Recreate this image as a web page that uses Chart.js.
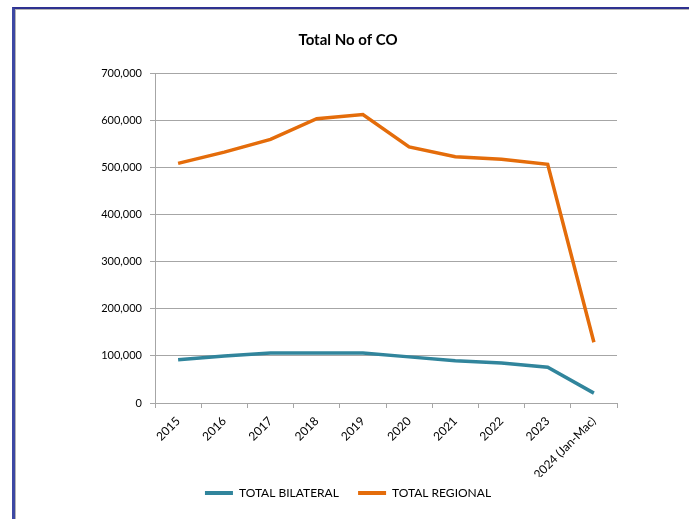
<!DOCTYPE html>
<html>
<head>
<meta charset="utf-8">
<script src="https://cdn.jsdelivr.net/npm/chart.js@4"></script>
<style>
  html, body { margin: 0; padding: 0; background: #ffffff; }
  #frame {
    position: absolute; left: 12px; top: 7px; width: 677px; height: 512px;
    border-top: 2px solid #2e3190; border-left: 3px solid #3d48a3;
    box-shadow: inset 1px 1px 0 #b4b4b4;
  }
  #chart { position: absolute; left: 0; top: 0; }
</style>
</head>
<body>
<div id="frame"></div>
<canvas id="chart" width="689" height="519"></canvas>
<script>
// Categories and series
const years = ['2015', '2016', '2017', '2018', '2019', '2020', '2021', '2022', '2023', '2024 (Jan-Mac)'];
const totalBilateral = [92000, 100000, 106000, 106000, 106000, 98000, 90000, 85000, 76000, 21000];
const totalRegional = [509000, 533000, 560000, 604000, 613000, 544000, 523000, 518000, 507000, 129000];
const yTicks = [0, 100000, 200000, 300000, 400000, 500000, 600000, 700000];

const FONT = 'Lato, "Liberation Sans", sans-serif';
const GRID = '#a6a6a6';

new Chart(document.getElementById('chart'), {
  type: 'line',
  data: {
    labels: years,
    datasets: [
      { label: 'TOTAL BILATERAL', data: totalBilateral, borderColor: '#31859c', backgroundColor: '#31859c',
        borderWidth: 3.5, pointRadius: 0, tension: 0 },
      { label: 'TOTAL REGIONAL', data: totalRegional, borderColor: '#e46c0a', backgroundColor: '#e46c0a',
        borderWidth: 3.5, pointRadius: 0, tension: 0 }
    ]
  },
  options: {
    responsive: false,
    animation: false,
    devicePixelRatio: 1,
    layout: { padding: { left: 79, right: 72, top: 0, bottom: 10 } },
    plugins: {
      title: {
        display: true, text: 'Total No of CO', color: '#000000',
        font: { family: FONT, size: 15, weight: 'bold', lineHeight: 1.2 },
        padding: { top: 31, bottom: 24.5 }
      },
      legend: {
        position: 'bottom',
        labels: {
          font: { family: FONT, size: 12 }, color: '#000000',
          boxWidth: 28, boxHeight: 4, padding: 10,
          generateLabels(chart) {
            return chart.data.datasets.map((ds, i) => ({
              // trailing gap keeps the two entries apart
              text: i === 0 ? ds.label + '   ' : ds.label,
              fillStyle: ds.borderColor, strokeStyle: ds.borderColor,
              lineWidth: 0, hidden: false, datasetIndex: i, fontColor: '#000000'
            }));
          }
        }
      },
      tooltip: { enabled: false }
    },
    scales: {
      x: {
        offset: true,
        grid: { display: true, drawOnChartArea: false, drawTicks: true, tickLength: 5, color: GRID, offset: true },
        border: { display: true, color: GRID, width: 1 },
        ticks: { minRotation: 45, maxRotation: 45, autoSkip: false, padding: 6,
                 font: { family: FONT, size: 12 }, color: '#000000' },
        afterFit(scale) { scale.height = 74; }
      },
      y: {
        min: 0, max: 700000,
        afterBuildTicks(scale) { scale.ticks = yTicks.map(v => ({ value: v })); },
        grid: { color: GRID, lineWidth: 1, tickLength: 5, drawTicks: true },
        border: { display: true, color: GRID, width: 1 },
        ticks: { padding: 8, font: { family: FONT, size: 11 }, color: '#000000',
                 callback: v => Number(v).toLocaleString('en-US') },
        afterFit(scale) { scale.width = 76; }
      }
    }
  }
});
</script>
</body>
</html>
